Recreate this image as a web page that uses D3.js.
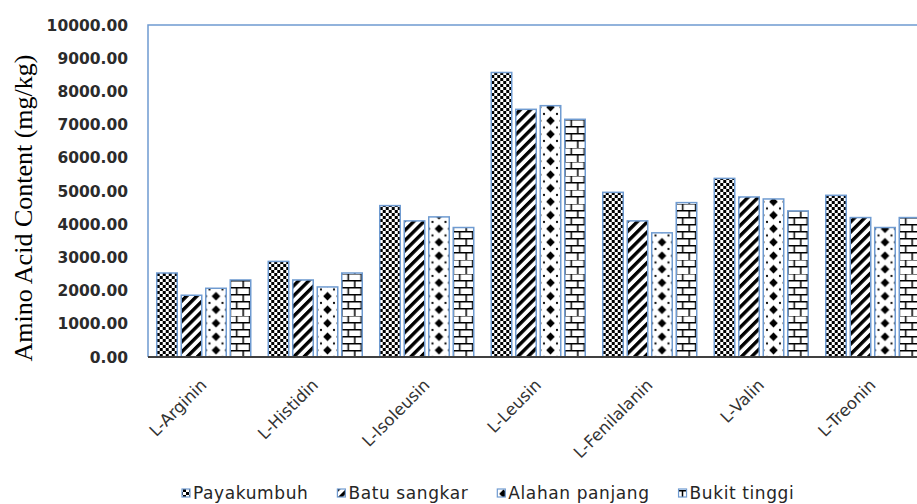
<!DOCTYPE html>
<html lang="en">
	<head>
		<meta charset="utf-8">
		<title>Amino Acid Content</title>
		<script src="https://cdnjs.cloudflare.com/ajax/libs/d3/7.8.5/d3.min.js"></script>
		<style type="text/css">
		body{
			margin: 0;
			background-color: white;
		}
		</style>
	</head>
	<body>
		<div id="viz"></div>
		<script type="text/javascript">
            const categories = ["L-Arginin", "L-Histidin", "L-Isoleusin", "L-Leusin", "L-Fenilalanin", "L-Valin", "L-Treonin"];
            const seriesNames = ["Payakumbuh", "Batu sangkar", "Alahan panjang", "Bukit tinggi"];
            const payakumbuh = [2530, 2880, 4560, 8570, 4960, 5380, 4870];
            const batuSangkar = [1860, 2320, 4100, 7460, 4100, 4820, 4200];
            const alahanPanjang = [2070, 2110, 4220, 7570, 3740, 4760, 3900];
            const bukitTinggi = [2320, 2530, 3900, 7160, 4650, 4400, 4200];
            const yTicks = [0, 1000, 2000, 3000, 4000, 5000, 6000, 7000, 8000, 9000, 10000];

            const seriesValues = [payakumbuh, batuSangkar, alahanPanjang, bukitTinggi];
            const patternKinds = ["checker", "diag", "diamond", "brick"];

			const width = 917;
			const height = 504;
            const plotLeft = 148;
            const plotTop = 25;
            const plotBottom = 357;
            const catStep = 111.5;
            const blue = "#6f9bd1";

            // define svg
			const svg = d3.select("#viz")
                .append("svg")
					.attr('width', width)
					.attr('height', height)
					.style('display', 'block');

            const x0 = d3.scaleBand()
                .domain(categories)
                .range([plotLeft, plotLeft + catStep * categories.length])
                .paddingInner(0)
                .paddingOuter(0);

            const x1 = d3.scaleBand()
                .domain(seriesNames)
                .range([0, catStep])
                .paddingInner(0.163)
                .paddingOuter(0.357);

            const y = d3.scaleLinear()
                .domain([0, 10000])
                .range([plotBottom, plotTop]);

            const defs = svg.append('defs');

            // fill patterns, one per bar so they line up with the bar edges
            function drawTile(p, kind){
                if (kind === "checker"){
                    p.attr('width', 6).attr('height', 6);
                    p.append('rect').attr('width', 6).attr('height', 6).attr('fill', 'white');
                    p.append('rect').attr('width', 3).attr('height', 3).attr('fill', 'black');
                    p.append('rect').attr('x', 3).attr('y', 3).attr('width', 3).attr('height', 3).attr('fill', 'black');
                } else if (kind === "diag"){
                    p.attr('width', 7.2).attr('height', 7.2).attr('patternTransform', 'rotate(45)');
                    p.append('rect').attr('width', 7.2).attr('height', 7.2).attr('fill', 'white');
                    p.append('rect').attr('width', 3.4).attr('height', 7.2).attr('fill', 'black');
                } else if (kind === "diamond"){
                    p.attr('width', 13).attr('height', 13.5);
                    p.append('rect').attr('width', 13).attr('height', 13.5).attr('fill', 'white');
                    p.append('path').attr('d', 'M6.5,2.3 L10.8,6.75 L6.5,11.2 L2.2,6.75 Z').attr('fill', 'black');
                    p.append('circle').attr('cx', 0).attr('cy', 0).attr('r', 1.1).attr('fill', 'black');
                    p.append('circle').attr('cx', 13).attr('cy', 0).attr('r', 1.1).attr('fill', 'black');
                    p.append('circle').attr('cx', 0).attr('cy', 13.5).attr('r', 1.1).attr('fill', 'black');
                    p.append('circle').attr('cx', 13).attr('cy', 13.5).attr('r', 1.1).attr('fill', 'black');
                } else {
                    p.attr('width', 13).attr('height', 14);
                    p.append('rect').attr('width', 13).attr('height', 14).attr('fill', 'white');
                    p.append('path')
                        .attr('d', 'M0,0.75 H13 M0,7.75 H13 M6.5,0 V7 M0,7 V14 M13,7 V14')
                        .attr('stroke', 'black')
                        .attr('stroke-width', 1.5)
                        .attr('fill', 'none');
                }
            }

            const bars = [];
            seriesNames.forEach((s, si) => {
                categories.forEach((c, ci) => {
                    bars.push({series: s, si: si, cat: c, ci: ci, value: seriesValues[si][ci]});
                });
            });

            bars.forEach(d => {
                const bx = x0(d.cat) + x1(d.series);
                const p = defs.append('pattern')
                    .attr('id', 'pat-' + d.si + '-' + d.ci)
                    .attr('patternUnits', 'userSpaceOnUse')
                    .attr('x', patternKinds[d.si] === 'diamond' ? bx + x1.bandwidth() / 2 - 6.5 : bx)
                    .attr('y', plotBottom);
                drawTile(p, patternKinds[d.si]);
            });

            // legend swatch patterns (diamond one offset so the swatch sits between diamonds)
            seriesNames.forEach((s, si) => {
                const p = defs.append('pattern')
                    .attr('id', 'leg-' + si)
                    .attr('patternUnits', 'userSpaceOnUse')
                    .attr('x', patternKinds[si] === 'diamond' ? 3 : 0)
                    .attr('y', patternKinds[si] === 'diamond' ? 1 : 0);
                drawTile(p, patternKinds[si]);
            });

            // plot area border (right side is off the page)
            svg.append('path')
                .attr('d', `M${plotLeft},${plotBottom} V${plotTop} H${width + 20}`)
                .attr('fill', 'none')
                .attr('stroke', blue)
                .attr('stroke-width', 1.5);

            // bars
            svg.append("g")
                .attr("class", "rect-bars")
                .selectAll("rect")
                .data(bars)
                .enter()
                .append("rect")
                    .attr("x", d => x0(d.cat) + x1(d.series))
                    .attr("y", d => y(d.value))
                    .attr("width", x1.bandwidth())
                    .attr("height", d => plotBottom - y(d.value))
                    .attr("fill", d => 'url(#pat-' + d.si + '-' + d.ci + ')')
                    .attr("stroke", blue)
                    .attr("stroke-width", 1.5);

            // x axis line
            svg.append('line')
                .attr('x1', plotLeft)
                .attr('x2', width)
                .attr('y1', plotBottom)
                .attr('y2', plotBottom)
                .attr('stroke', '#404040')
                .attr('stroke-width', 2);

            // y tick labels
            svg.append('g')
                .attr('class', 'y-labels')
                .selectAll('text')
                .data(yTicks)
                .enter()
                .append('text')
                    .attr('x', 128)
                    .attr('y', d => y(d))
                    .attr('dy', '0.36em')
                    .attr('text-anchor', 'end')
                    .text(d => d3.format('.2f')(d))
                    .attr('font-family', 'DejaVu Sans')
                    .attr('font-weight', 'bold')
                    .attr('font-size', 15.5)
                    .attr('fill', '#2b2b2b');

            // category labels
            svg.append('g')
                .attr('class', 'x-labels')
                .selectAll('text')
                .data(categories)
                .enter()
                .append('text')
                    .attr('transform', d => `translate(${x0(d) + x0.bandwidth() / 2 + 4},386) rotate(-45)`)
                    .attr('text-anchor', 'end')
                    .text(d => d)
                    .attr('font-family', 'DejaVu Sans')
                    .attr('font-size', 16.5)
                    .attr('fill', '#333333');

            // y axis title
            svg.append('text')
                .attr('transform', 'translate(32,208) rotate(-90)')
                .attr('text-anchor', 'middle')
                .text('Amino Acid Content (mg/kg)')
                .attr('font-family', 'Liberation Serif')
                .attr('font-size', 26)
                .attr('fill', 'black');

            // legend
            const legend = svg.append('g').attr('class', 'legend');
            let lx = 182;
            seriesNames.forEach((s, si) => {
                legend.append('rect')
                    .attr('x', lx)
                    .attr('y', 489)
                    .attr('width', 8)
                    .attr('height', 8)
                    .attr('fill', 'url(#leg-' + si + ')')
                    .attr('stroke', blue)
                    .attr('stroke-width', 1.2);
                const t = legend.append('text')
                    .attr('x', lx + 11)
                    .attr('y', 493)
                    .attr('dy', '0.36em')
                    .text(s)
                    .attr('font-family', 'DejaVu Sans')
                    .attr('font-size', 17)
                    .attr('letter-spacing', 0.6)
                    .attr('fill', '#262626');
                lx += 11 + t.node().getComputedTextLength() + 29;
            });
		</script>
	</body>
</html>
